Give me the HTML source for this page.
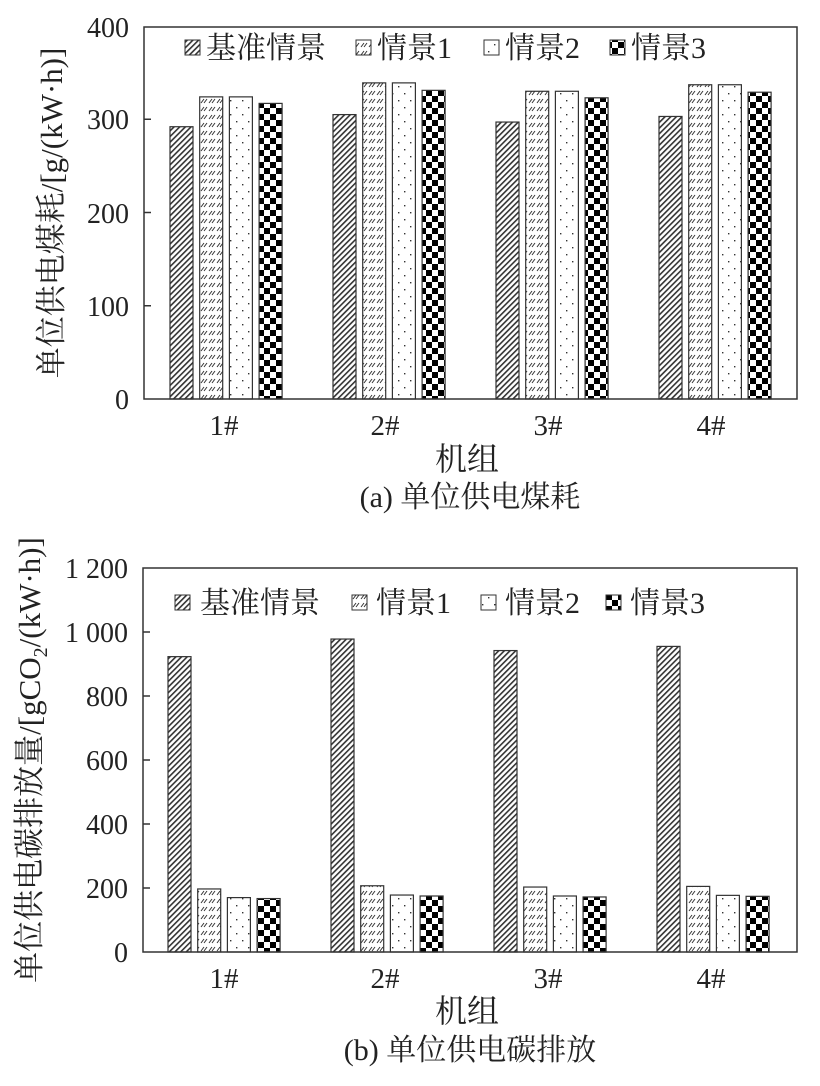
<!DOCTYPE html>
<html><head><meta charset="utf-8"><style>
html,body{margin:0;padding:0;background:#fff}
svg{display:block}
text{font-family:"Liberation Serif","Noto Serif CJK SC",serif;fill:#222}
</style></head><body>
<svg id="s" width="820" height="1086" viewBox="0 0 820 1086" xmlns="http://www.w3.org/2000/svg">
<defs>
<pattern id="p0" width="4" height="4" patternUnits="userSpaceOnUse" patternTransform="rotate(45)">
<rect width="4" height="4" fill="#fff"/><rect width="1.6" height="4" fill="#333"/></pattern>
<pattern id="p1" width="8" height="8" patternUnits="userSpaceOnUse">
<rect width="8" height="8" fill="#fff"/><path d="M1 7 L4 3 M4 7 L7 3" stroke="#333" stroke-width="1"/></pattern>
<pattern id="p2" width="12" height="14" patternUnits="userSpaceOnUse">
<rect width="12" height="14" fill="#fff"/><rect x="2" y="2" width="1.4" height="1.4" fill="#333"/><rect x="8" y="9" width="1.4" height="1.4" fill="#333"/></pattern>
<pattern id="p3" width="12" height="12" patternUnits="userSpaceOnUse">
<rect width="12" height="12" fill="#fff"/><rect width="6" height="6" fill="#000"/><rect x="6" y="6" width="6" height="6" fill="#000"/></pattern>
</defs>
<g id="g"></g>
<!-- chart a -->
<rect x="144" y="27" width="653" height="372" fill="none" stroke="#333" stroke-width="1.5"/>
<g font-size="28" text-anchor="end">
<text x="129" y="409">0</text><text x="129" y="316">100</text><text x="129" y="223">200</text><text x="129" y="129">300</text><text x="129" y="37">400</text>
</g>
<g font-size="29" text-anchor="middle">
<text x="224" y="435">1#</text><text x="385" y="435">2#</text><text x="548" y="435">3#</text><text x="711" y="435">4#</text>
<text x="467" y="470" font-size="32">机组</text>
<text x="470" y="507" font-size="30">(a) 单位供电煤耗</text>
</g>
<text font-size="31" text-anchor="middle" transform="translate(62,213) rotate(-90)">单位供电煤耗/[g/(kW·h)]</text>
<g font-size="30">
<rect x="185" y="40" width="15" height="15" fill="url(#p0)" stroke="#333"/><text x="206" y="58">基准情景</text>
<rect x="356" y="40" width="15" height="15" fill="url(#p1)" stroke="#333"/><text x="377" y="58">情景1</text>
<rect x="484" y="40" width="15" height="15" fill="url(#p2)" stroke="#333"/><text x="505" y="58">情景2</text>
<rect x="610" y="40" width="15" height="15" fill="url(#p3)" stroke="#333"/><text x="631" y="58">情景3</text>
</g>
<!-- chart b -->
<rect x="143" y="568" width="654" height="384" fill="none" stroke="#333" stroke-width="1.5"/>
<g font-size="28" text-anchor="end">
<text x="128" y="962">0</text><text x="128" y="898">200</text><text x="128" y="834">400</text><text x="128" y="770">600</text><text x="128" y="706">800</text><text x="128" y="642">1 000</text><text x="128" y="578">1 200</text>
</g>
<g font-size="29" text-anchor="middle">
<text x="224" y="988">1#</text><text x="385" y="988">2#</text><text x="548" y="988">3#</text><text x="711" y="988">4#</text>
<text x="467" y="1022" font-size="32">机组</text>
<text x="470" y="1060" font-size="30">(b) 单位供电碳排放</text>
</g>
<text font-size="31" text-anchor="middle" transform="translate(40,760) rotate(-90)">单位供电碳排放量/[gCO<tspan font-size="20" dy="7">2</tspan><tspan dy="-7">/(kW·h)]</tspan></text>
<g font-size="30">
<rect x="175" y="595" width="15" height="15" fill="url(#p0)" stroke="#333"/><text x="200" y="613">基准情景</text>
<rect x="352" y="595" width="15" height="15" fill="url(#p1)" stroke="#333"/><text x="376" y="613">情景1</text>
<rect x="481" y="595" width="15" height="15" fill="url(#p2)" stroke="#333"/><text x="505" y="613">情景2</text>
<rect x="606" y="595" width="15" height="15" fill="url(#p3)" stroke="#333"/><text x="630" y="613">情景3</text>
</g>
</svg>
<script>
var g=document.getElementById('g'),ns='http://www.w3.org/2000/svg';
function r(x,y,w,h,f){var e=document.createElementNS(ns,'rect');e.setAttribute('x',x);e.setAttribute('y',y);e.setAttribute('width',w);e.setAttribute('height',h);e.setAttribute('fill',f);e.setAttribute('stroke','#333');e.setAttribute('stroke-width','1.2');g.appendChild(e);}
function l(x1,y1,x2,y2){var e=document.createElementNS(ns,'line');e.setAttribute('x1',x1);e.setAttribute('y1',y1);e.setAttribute('x2',x2);e.setAttribute('y2',y2);e.setAttribute('stroke','#333');e.setAttribute('stroke-width','1.5');g.appendChild(e);}
var A=[[292,324,324,317],[305,339,339,331],[297,330,330,323],[303,337,337,329]];
var B=[[923,197,170,167],[978,207,178,175],[942,203,175,172],[955,205,177,174]];
for(var i=0;i<4;i++)for(var j=0;j<4;j++){
 var x=170+i*163+j*29.7;
 var h=A[i][j]*0.9325; r(x,399-h,23,h,'url(#p'+j+')');
 var h2=B[i][j]*0.32; r(x-2,952-h2,23,h2,'url(#p'+j+')');
}
for(var k=1;k<4;k++){l(144,399-k*93.25,151,399-k*93.25);}
for(var k=1;k<6;k++){l(143,952-k*64,150,952-k*64);}
</script>
</body></html>
